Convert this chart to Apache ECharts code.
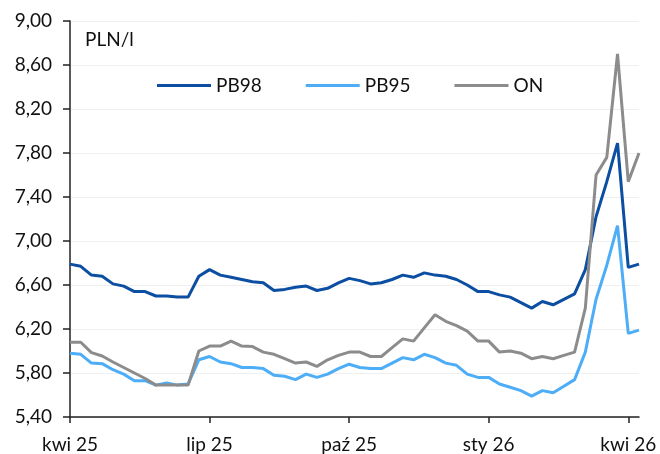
<!DOCTYPE html>
<html>
<head>
<meta charset="utf-8">
<script src="https://cdn.jsdelivr.net/npm/echarts@6/dist/echarts.min.js"></script>
<style>
html,body{margin:0;padding:0;background:#fff;}
#chart{width:660px;height:454px;}
</style>
</head>
<body>
<div id="chart"></div>
<script>
// Weekly dates (Wednesdays), Apr 2025 - Apr 2026
const startDate = '2025-04-02';
const weekCount = 54;
const dates = [];
for (let i = 0; i < weekCount; i++) {
  const d = new Date(Date.UTC(2025, 3, 2 + 7 * i));
  dates.push(d.toISOString().slice(0, 10));
}
const tickLabels = ['kwi 25', 'lip 25', 'paź 25', 'sty 26', 'kwi 26'];
const tickEvery = 13;
const unitLabel = 'PLN/l';
const seriesNames = ['PB98', 'PB95', 'ON'];

const pb98 = [6.79,6.77,6.69,6.68,6.61,6.59,6.54,6.54,6.50,6.50,6.49,6.49,6.68,6.74,6.69,6.67,6.65,6.63,6.62,6.55,
  6.56,6.58,6.59,6.55,6.57,6.62,6.66,6.64,6.61,6.62,6.65,6.69,6.67,6.71,6.69,6.68,6.65,6.60,6.54,6.54,
  6.51,6.49,6.44,6.39,6.45,6.42,6.47,6.52,6.74,7.22,7.54,7.89,6.76,6.79];
const pb95 = [5.98,5.97,5.89,5.885,5.83,5.79,5.73,5.73,5.69,5.71,5.69,5.70,5.92,5.95,5.90,5.885,5.85,5.85,5.84,5.78,
  5.77,5.74,5.79,5.76,5.79,5.84,5.88,5.85,5.84,5.84,5.89,5.94,5.92,5.97,5.94,5.89,5.87,5.79,5.76,5.76,
  5.70,5.67,5.64,5.59,5.64,5.62,5.68,5.74,5.99,6.47,6.78,7.14,6.16,6.19];
const on = [6.08,6.08,5.985,5.955,5.90,5.85,5.80,5.75,5.69,5.69,5.69,5.69,6.00,6.045,6.045,6.09,6.045,6.04,5.99,5.97,
  5.93,5.89,5.90,5.86,5.92,5.96,5.99,5.99,5.95,5.95,6.03,6.11,6.09,6.21,6.33,6.27,6.23,6.18,6.09,6.09,
  5.99,6.00,5.98,5.93,5.95,5.93,5.96,5.99,6.39,7.60,7.76,8.70,7.54,7.80];

const colors = ['#0B4EA2', '#4DADF7', '#8C8C8C'];
const FONT = 'Lato, "Liberation Sans", sans-serif';

const chart = echarts.init(document.getElementById('chart'), null, {renderer: 'canvas'});
const mk = (name, data, color) => ({
  name, type: 'line', data, showSymbol: false, symbol: 'none',
  lineStyle: {color, width: 3}, itemStyle: {color}, animation: false
});
chart.setOption({
  animation: false,
  grid: {left: 70, right: 21, top: 21, bottom: 35, containLabel: false},
  legend: {
    left: 157, top: 76, padding: 0, itemWidth: 54, itemHeight: 14, itemGap: 44, icon: 'path://M0,0 L54,0 L54,3 L0,3 Z',
    data: seriesNames,
    textStyle: {fontFamily: FONT, fontSize: 19, color: '#111'}
  },
  graphic: [{type: 'text', left: 85, top: 30, style: {text: unitLabel, fontFamily: FONT, fontSize: 19, fill: '#111'}}],
  xAxis: {
    type: 'category', data: dates, boundaryGap: false,
    axisLine: {lineStyle: {color: '#222', width: 1.5}},
    axisTick: {length: 6, lineStyle: {color: '#222', width: 1.5}, interval: (i) => i % tickEvery === 0},
    axisLabel: {
      interval: (i) => i % tickEvery === 0, margin: 18,
      fontFamily: FONT, fontSize: 19, color: '#111',
      formatter: (v, i) => tickLabels[Math.round(i / tickEvery)] || ''
    },
    splitLine: {show: false}
  },
  yAxis: {
    type: 'value', min: 5.4, max: 9.0, interval: 0.4,
    axisLine: {show: true, lineStyle: {color: '#222', width: 1.5}},
    axisTick: {show: true, length: 7, lineStyle: {color: '#222', width: 1.5}},
    axisLabel: {
      margin: 18, fontFamily: FONT, fontSize: 19, color: '#111',
      formatter: (v) => v.toFixed(2).replace('.', ',')
    },
    splitLine: {show: true, lineStyle: {color: '#efefef', width: 1}}
  },
  series: [mk('PB98', pb98, colors[0]), mk('PB95', pb95, colors[1]), mk('ON', on, colors[2])]
});
</script>
</body>
</html>
